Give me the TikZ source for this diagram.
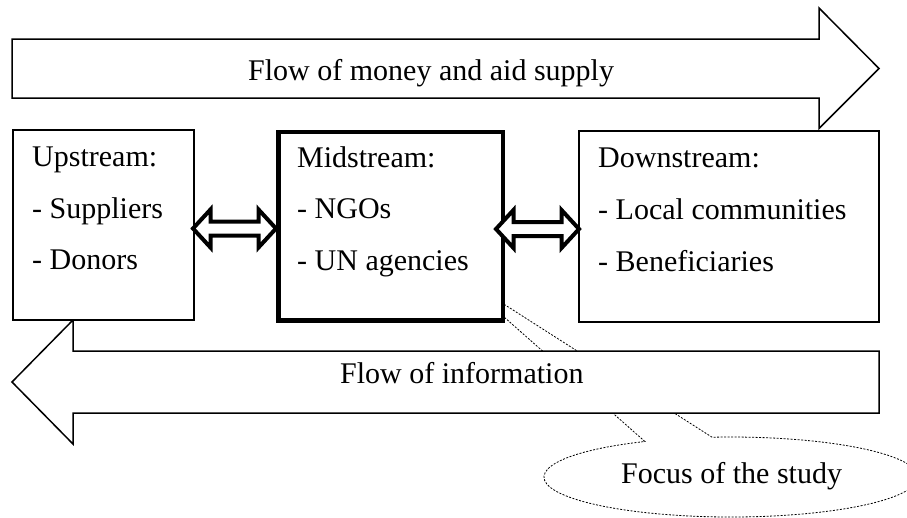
\documentclass[tikz,border=0pt]{standalone}
\usepackage{fontspec}
\setmainfont{Liberation Serif}
\begin{document}
\begin{tikzpicture}[x=1pt,y=-1pt,
  lbl/.style={font=\fontsize{30}{36}\selectfont, inner sep=0pt, anchor=base west},
  thinline/.style={draw=black, line width=1.5pt, fill=white, line join=miter},
  thinbox/.style={draw=black, line width=1.5pt, fill=white, inner sep=0pt, anchor=north west},
  thickbox/.style={draw=black, line width=4.5pt, fill=white, inner sep=0pt, anchor=north west},
  dblarrow/.style={draw=black, line width=4pt, fill=white, line join=miter, miter limit=10},
  callout/.style={draw=black, line width=0.8pt, dash pattern=on 2pt off 1.5pt, fill=white},
  dbl/.pic={\draw[dblarrow] (-41.5,0) -- (-24,-19) -- (-24,-7) -- (24,-7) -- (24,-19) -- (41.5,0)
      -- (24,19) -- (24,7) -- (-24,7) -- (-24,19) -- cycle;}]
\useasboundingbox (0,0) rectangle (907,517);

% callout for the focus of the study
\coordinate (ptr) at (452,271);
\draw[callout] (ptr) -- (644.9,441.5)
  arc[start angle=117.4, end angle=455.8, x radius=187pt, y radius=40pt] -- cycle;

% flow of money (right) arrow
\draw[thinline] (12,39) -- (819,39) -- (819,8) -- (879,68.5) -- (819,128.5) -- (819,98) -- (12,98) -- cycle;
% flow of information (left) arrow
\draw[thinline] (879,351) -- (73,351) -- (73,320) -- (12,382) -- (73,444) -- (73,413) -- (879,413) -- cycle;

% boxes
\node[thinbox, minimum width=181pt, minimum height=190pt] (up) at (12,129) {};
\node[thickbox, minimum width=224.5pt, minimum height=188.5pt] (mid) at (276,129.5) {};
\node[thinbox, minimum width=300pt, minimum height=191pt] (down) at (578,130) {};

% double arrows
\pic (a1) at (234.5,228.5) {dbl};
\pic (a2) at (537.5,229) {dbl};

% texts
\node[lbl] (tmoney) at (248,80) {Flow of money and aid supply};
\node[lbl] (tinfo) at (340,383) {Flow of information};

\node[lbl] (u1) at (32,166) {Upstream:};
\node[lbl] (u2) at (32,218) {- Suppliers};
\node[lbl] (u3) at (32,269) {- Donors};

\node[lbl] (m1) at (297,167) {Midstream:};
\node[lbl] (m2) at (297,218.5) {- NGOs};
\node[lbl] (m3) at (297,270.5) {- UN agencies};

\node[lbl] (d1) at (598,167) {Downstream:};
\node[lbl] (d2) at (598,219) {- Local communities};
\node[lbl] (d3) at (598,271) {- Beneficiaries};

\node[lbl] (focus) at (621,483) {Focus of the study};
\end{tikzpicture}
\end{document}
